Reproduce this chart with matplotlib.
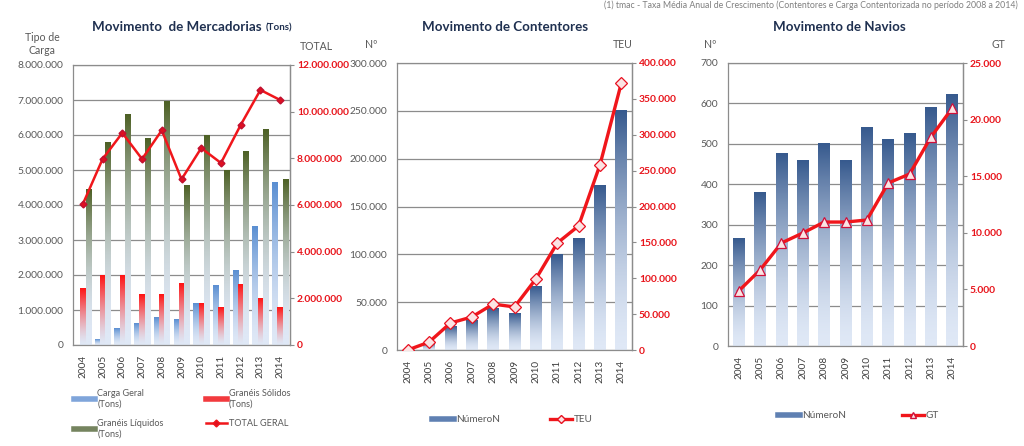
import numpy as np
import matplotlib
matplotlib.use("Agg")
import matplotlib.pyplot as plt
from matplotlib.colors import LinearSegmentedColormap
from matplotlib.ticker import FuncFormatter, MultipleLocator
from matplotlib.lines import Line2D

plt.rcParams['font.family'] = ['Lato', 'DejaVu Sans']

years = ['2004', '2005', '2006', '2007', '2008', '2009', '2010', '2011', '2012', '2013', '2014']

# Movimento de Mercadorias (Tons)
carga_geral = [0, 150000, 480000, 620000, 800000, 740000, 1200000, 1700000, 2130000, 3400000, 4630000]
graneis_solidos = [1620000, 2000000, 2000000, 1440000, 1440000, 1770000, 1200000, 1080000, 1720000, 1330000, 1080000]
graneis_liquidos = [4450000, 5800000, 6600000, 5900000, 6950000, 4570000, 6000000, 5000000, 5530000, 6150000, 4730000]
total_geral = [6040000, 7970000, 9090000, 7970000, 9200000, 7100000, 8440000, 7800000, 9430000, 10930000, 10500000]

# Movimento de Contentores
contentores_num = [0, 7300, 25000, 31000, 43000, 38500, 66000, 99500, 117000, 171500, 250000]
contentores_teu = [0, 11000, 37600, 46000, 64000, 60000, 99000, 149000, 173000, 258000, 372000]

# Movimento de Navios
navios_num = [266, 380, 476, 458, 500, 458, 541, 511, 525, 590, 622]
navios_gt = [4860, 6710, 9100, 9980, 10950, 10950, 11130, 14400, 15190, 18460, 21020]

W, H = 1024, 446
fig = plt.figure(figsize=(W / 100, H / 100), dpi=100)

GRAY_TXT = '#595959'
RED_TXT = '#e8141b'
RED_LINE = '#f0161b'
NAVY = '#1f3050'
PALE = '#dfe8f6'


def fmt(v, pos=None):
    return f"{int(round(v)):,}".replace(',', '.')


def gradient_bars(ax, bars, top_color, bottom_color=PALE, power=1.6):
    cmap = LinearSegmentedColormap.from_list('g', [bottom_color, top_color])
    grad = (np.linspace(0, 1, 128) ** power).reshape(-1, 1)
    for b in bars:
        x0, y0 = b.get_x(), b.get_y()
        w, h = b.get_width(), b.get_height()
        if h <= 0:
            continue
        ax.imshow(grad, cmap=cmap, vmin=0, vmax=1, origin='lower', aspect='auto',
                  extent=(x0, x0 + w, y0, y0 + h), zorder=2, interpolation='bilinear')
        b.set_facecolor('none')
        b.set_edgecolor('none')


def px_axes(l, r, t, b):
    return fig.add_axes([l / W, 1 - b / H, (r - l) / W, (b - t) / H])


def style_axes(ax, ax2, ymax, ystep, y2max, y2step):
    n = len(years)
    ax.set_xlim(-0.5, n - 0.5)
    ax.set_ylim(0, ymax)
    ax.yaxis.set_major_locator(MultipleLocator(ystep))
    ax.yaxis.set_major_formatter(FuncFormatter(fmt))
    ax.grid(axis='y', color='#8c8c8c', linewidth=0.9)
    ax.set_axisbelow(True)
    ax.set_xticks(range(n))
    ax.set_xticklabels(years, rotation=90, fontsize=7.2, color='#404040')
    ax.tick_params(axis='x', length=0, pad=7)
    ax.tick_params(axis='y', length=0, labelsize=7.4, labelcolor=GRAY_TXT, pad=7)
    for s in ['left', 'bottom', 'right', 'top']:
        ax.spines[s].set_color('#8c8c8c')
        ax.spines[s].set_linewidth(0.9)
    ax2.set_ylim(0, y2max)
    ax2.yaxis.set_major_locator(MultipleLocator(y2step))
    ax2.yaxis.set_major_formatter(FuncFormatter(fmt))
    ax2.tick_params(axis='y', length=3, color='#8c8c8c', labelsize=7.4,
                    labelcolor=RED_TXT, pad=2)
    for s in ['left', 'bottom', 'right', 'top']:
        ax2.spines[s].set_visible(s == 'right')
    ax2.spines['right'].set_color('#8c8c8c')
    ax2.spines['right'].set_linewidth(0.9)
    for lbl in ax2.get_yticklabels():
        lbl.set_fontweight('bold')


x = np.arange(len(years))

# ---------------- Chart 1 ----------------
ax1 = px_axes(73, 290, 65, 345)
bw = 0.27
b_cg = ax1.bar(x - bw, carga_geral, bw, zorder=2)
b_gs = ax1.bar(x, graneis_solidos, bw, zorder=2)
b_gl = ax1.bar(x + bw, graneis_liquidos, bw, zorder=2)
gradient_bars(ax1, b_cg, '#5b8fd2')
gradient_bars(ax1, b_gs, '#ff1414', power=1.4)
gradient_bars(ax1, b_gl, '#4e6126', power=2.0)
ax1b = ax1.twinx()
ax1b.plot(x, total_geral, color=RED_LINE, lw=1.8, marker='D', ms=3.5,
          markerfacecolor='#e01020', markeredgecolor='#c01030', zorder=5)
style_axes(ax1, ax1b, 8000000, 1000000, 12000000, 2000000)

fig.text(92 / W, 1 - 27 / H, 'Movimento  de Mercadorias', fontsize=9.6, fontweight='bold',
         color=NAVY, va='center', ha='left')
fig.text(266 / W, 1 - 28 / H, '(Tons)', fontsize=7, fontweight='bold',
         color=NAVY, va='center', ha='left')
fig.text(42 / W, 1 - 44 / H, 'Tipo de\nCarga', fontsize=7.6, color=GRAY_TXT,
         va='center', ha='center', linespacing=1.3)
fig.text(316 / W, 1 - 46 / H, 'TOTAL', fontsize=7.6, color=GRAY_TXT, va='center', ha='center')

h_cg = Line2D([], [], color='#7fa5da', lw=4)
h_gs = Line2D([], [], color='#f23a3e', lw=4)
h_gl = Line2D([], [], color='#75845f', lw=4)
h_tot = Line2D([], [], color=RED_LINE, lw=1.8, marker='D', ms=3.5, markerfacecolor='#e01020')
fig.legend([h_cg, h_gl, h_gs, h_tot],
           ['Carga Geral\n(Tons)', 'Granéis Líquidos\n(Tons)', 'Granéis Sólidos\n(Tons)', 'TOTAL GERAL'],
           ncol=2, loc='upper left', bbox_to_anchor=(66 / W, 1 - 381 / H), frameon=False,
           fontsize=6.6, labelcolor=GRAY_TXT, handlelength=2.3, handletextpad=0.2,
           columnspacing=4.6, labelspacing=1.1)

# ---------------- Chart 2 ----------------
ax2 = px_axes(397, 632, 63, 350)
bars2 = ax2.bar(x, contentores_num, 0.55, zorder=2)
gradient_bars(ax2, bars2, '#375a8e')
ax2b = ax2.twinx()
ax2b.plot(x, contentores_teu, color=RED_LINE, lw=2.4, marker='D', ms=6,
          markerfacecolor='#fbe3e3', markeredgecolor='#e81020', markeredgewidth=0.9, zorder=5)
style_axes(ax2, ax2b, 300000, 50000, 400000, 50000)
fig.text(505 / W, 1 - 27 / H, 'Movimento de Contentores', fontsize=9.6, fontweight='bold',
         color=NAVY, va='center', ha='center')
fig.text(371 / W, 1 - 44 / H, 'Nº', fontsize=7.6, color=GRAY_TXT, va='center', ha='center')
fig.text(623 / W, 1 - 44 / H, 'TEU', fontsize=7.6, color=GRAY_TXT, va='center', ha='center')
h_n = Line2D([], [], color='#5f80b2', lw=4)
h_teu = Line2D([], [], color=RED_LINE, lw=2.4, marker='D', ms=4,
               markerfacecolor='#fbe3e3', markeredgecolor='#e81020')
fig.legend([h_n, h_teu], ['NúmeroN', 'TEU'], ncol=2, loc='center left',
           bbox_to_anchor=(423 / W, 1 - 420 / H), frameon=False, fontsize=7.2,
           labelcolor=GRAY_TXT, handlelength=2.2, handletextpad=0.2, columnspacing=5.0)

# ---------------- Chart 3 ----------------
ax3 = px_axes(728, 963, 63, 346)
bars3 = ax3.bar(x, navios_num, 0.55, zorder=2)
gradient_bars(ax3, bars3, '#375a8e')
ax3b = ax3.twinx()
ax3b.plot(x, navios_gt, color=RED_LINE, lw=2.4, marker='^', ms=7,
          markerfacecolor='#fbe3e3', markeredgecolor='#d0103a', markeredgewidth=0.9, zorder=5)
style_axes(ax3, ax3b, 700, 100, 25000, 5000)
fig.text(839 / W, 1 - 27 / H, 'Movimento de Navios', fontsize=9.6, fontweight='bold',
         color=NAVY, va='center', ha='center')
fig.text(710 / W, 1 - 44 / H, 'Nº', fontsize=7.6, color=GRAY_TXT, va='center', ha='center')
fig.text(998 / W, 1 - 44 / H, 'GT', fontsize=7.6, color=GRAY_TXT, va='center', ha='center')
h_gt = Line2D([], [], color=RED_LINE, lw=2.4, marker='^', ms=5,
              markerfacecolor='#fbe3e3', markeredgecolor='#d0103a')
fig.legend([h_n, h_gt], ['NúmeroN', 'GT'], ncol=2, loc='center left',
           bbox_to_anchor=(769 / W, 1 - 416 / H), frameon=False, fontsize=7.2,
           labelcolor=GRAY_TXT, handlelength=2.2, handletextpad=0.2, columnspacing=5.6)

# Note at top right
fig.text(1018 / W, 1 - 0.5 / H, '(1) tmac - Taxa Média Anual de Crescimento (Contentores e Carga Contentorizada no período 2008 a 2014)',
         fontsize=6.3, color='#7f7f7f', va='top', ha='right')

fig.savefig('out.png', dpi=100)
